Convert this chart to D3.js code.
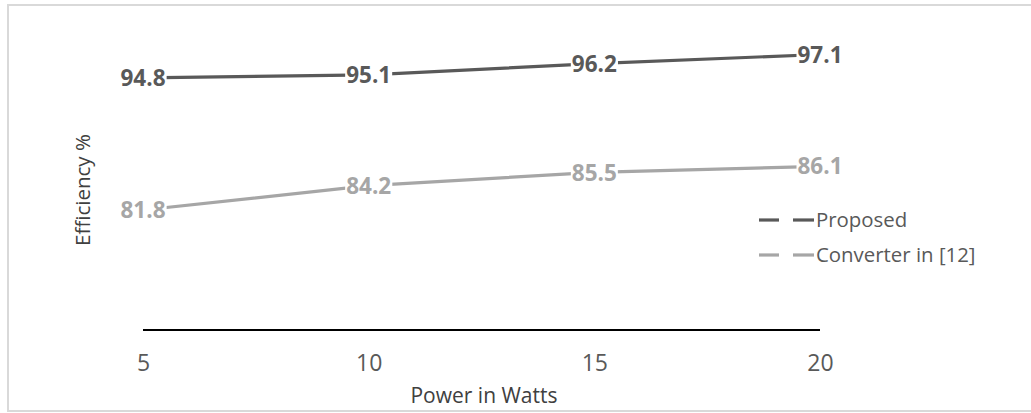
<!DOCTYPE html>
<html>
<head>
<meta charset="utf-8">
<script src="https://cdn.jsdelivr.net/npm/d3@7"></script>
<style>
  html, body { margin: 0; padding: 0; background: #fff; }
  svg { display: block; font-family: "Open Sans", "Liberation Sans", sans-serif; }
</style>
</head>
<body>
<svg id="chart" width="1031" height="413"></svg>
<script>
// Power levels (W) on the category axis
const powers = [5, 10, 15, 20];
// Efficiency (%) for each converter
const proposed = [94.8, 95.1, 96.2, 97.1];
const converter12 = [81.8, 84.2, 85.5, 86.1];
const seriesNames = ["Proposed", "Converter in [12]"];
const xTitle = "Power in Watts";
const yTitle = "Efficiency %";

const series = [
  { name: seriesNames[0], values: proposed, color: "#595959" },
  { name: seriesNames[1], values: converter12, color: "#a6a6a6" }
];

const svg = d3.select("#chart");

// chart frame
svg.append("rect")
  .attr("x", 8).attr("y", 5)
  .attr("width", 1030).attr("height", 406)
  .attr("fill", "#fff")
  .attr("stroke", "#d9d9d9").attr("stroke-width", 2);

const x = d3.scalePoint().domain(powers).range([143, 820]);
const y = d3.scaleLinear().domain([70, 100]).range([330, 25]);

// category axis: plain line with labels, no tick marks
const xAxis = svg.append("g")
  .attr("transform", "translate(0,330)")
  .call(d3.axisBottom(x).tickSize(0).tickPadding(25));
xAxis.select(".domain")
  .attr("d", `M${x(powers[0])},0H${x(powers[powers.length - 1])}`)
  .attr("stroke", "#000").attr("stroke-width", 2);
xAxis.selectAll("text")
  .attr("fill", "#595959")
  .style("font-size", "23px")
  .style("font-family", "'Open Sans', sans-serif");

// axis titles
svg.append("text")
  .attr("x", 484).attr("y", 403)
  .attr("text-anchor", "middle")
  .attr("fill", "#404040")
  .style("font-size", "21px")
  .text(xTitle);

svg.append("text")
  .attr("transform", "translate(90,190) rotate(-90)")
  .attr("text-anchor", "middle")
  .attr("fill", "#404040")
  .style("font-size", "20.5px")
  .text(yTitle);

const line = d3.line()
  .x((d, i) => x(powers[i]))
  .y(d => y(d));

series.forEach(s => {
  svg.append("path")
    .datum(s.values)
    .attr("fill", "none")
    .attr("stroke", s.color)
    .attr("stroke-width", 3.2)
    .attr("d", line);
});

// value labels centred on each point, on a white box
series.forEach(s => {
  const g = svg.append("g");
  s.values.forEach((v, i) => {
    const lg = g.append("g")
      .attr("transform", `translate(${x(powers[i])},${y(v)})`);
    const rect = lg.append("rect").attr("fill", "#fff");
    const t = lg.append("text")
      .attr("text-anchor", "middle")
      .attr("dy", "0.36em")
      .attr("fill", s.color)
      .style("font-size", "22.5px")
      .style("font-weight", "bold")
      .text(v.toFixed(1));
    const bb = t.node().getBBox();
    rect.attr("x", bb.x - 1).attr("y", bb.y + 3)
      .attr("width", bb.width + 2).attr("height", bb.height - 6);
  });
});

// legend
const legend = svg.append("g");
series.forEach((s, i) => {
  const ly = 220 + i * 35;
  const row = legend.append("g").attr("transform", `translate(0,${ly})`);
  row.append("line")
    .attr("x1", 759).attr("x2", 779).attr("y1", 0).attr("y2", 0)
    .attr("stroke", s.color).attr("stroke-width", 3.2);
  row.append("line")
    .attr("x1", 793).attr("x2", 814).attr("y1", 0).attr("y2", 0)
    .attr("stroke", s.color).attr("stroke-width", 3.2);
  row.append("text")
    .attr("x", 816).attr("dy", "0.36em")
    .attr("fill", "#595959")
    .style("font-size", "20.4px")
    .text(s.name);
});
</script>
</body>
</html>
